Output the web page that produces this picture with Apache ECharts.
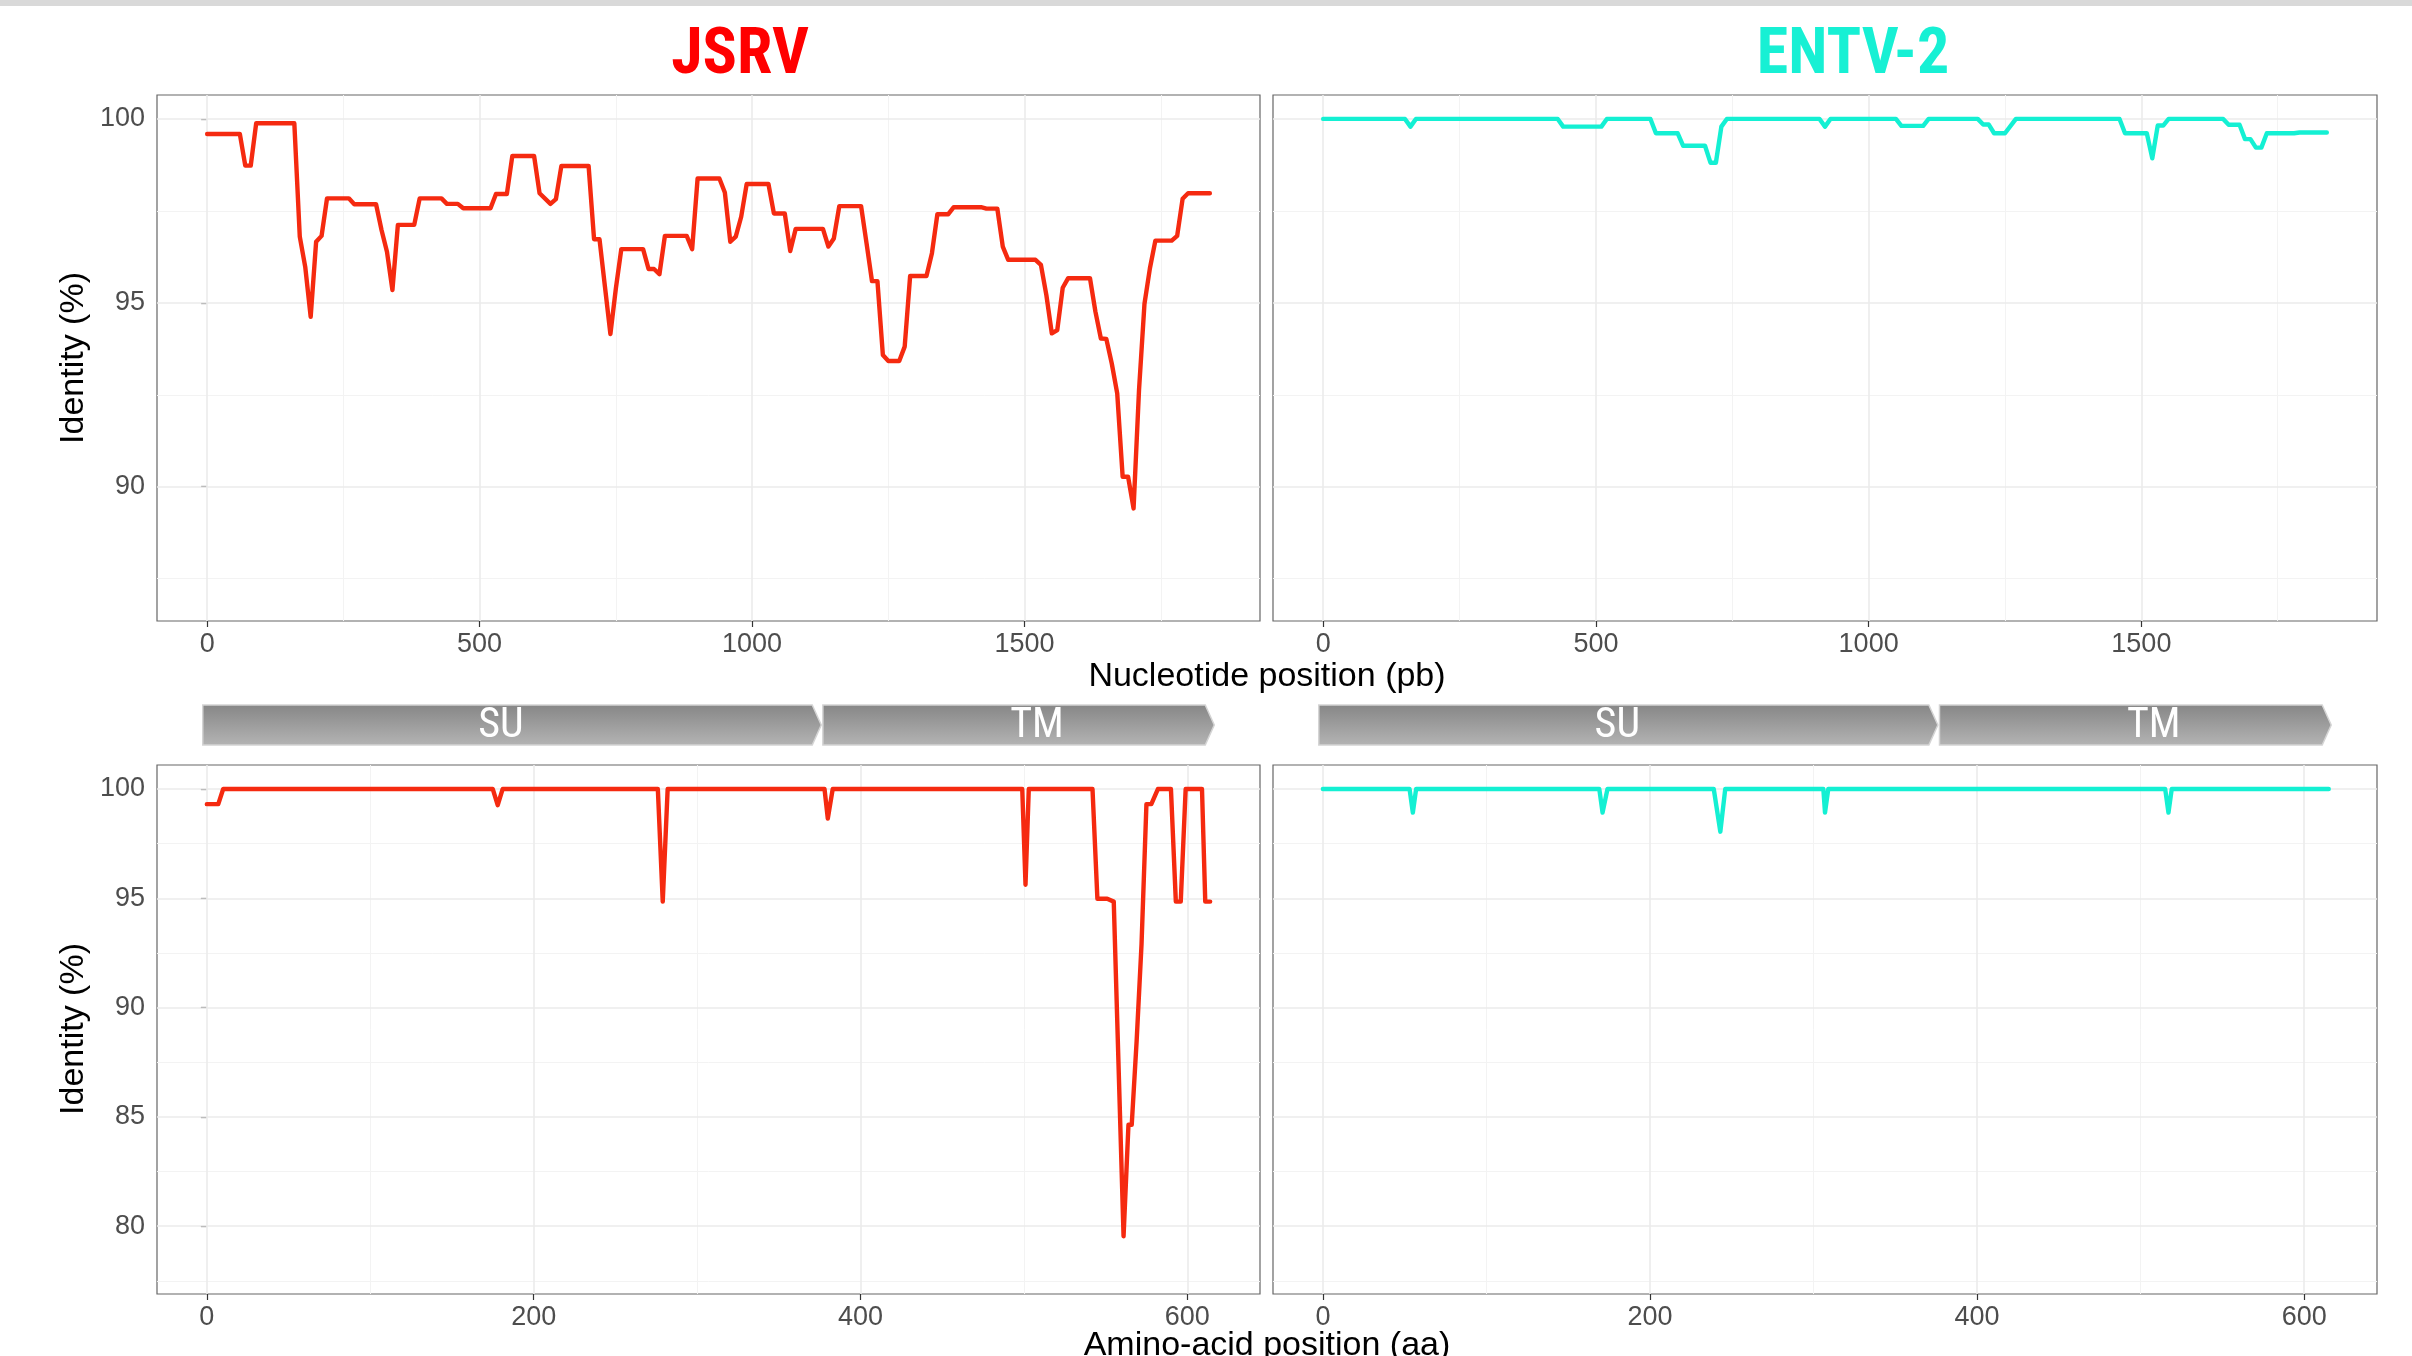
<!DOCTYPE html>
<html><head><meta charset="utf-8">
<script src="https://cdn.jsdelivr.net/npm/echarts@6/dist/echarts.min.js"></script>
<style>html,body{margin:0;padding:0;background:#fff}#c{width:2412px;height:1356px}</style>
</head><body><div id="c"></div>
<script>
// ---- data ----
const jsrvNtPos = [0,60,70,80,90,160,170,180,190,200,210,220,260,270,310,320,330,340,350,380,390,430,440,460,470,520,530,550,560,600,610,630,640,650,700,710,720,730,740,750,760,800,810,820,830,840,880,890,900,940,950,960,970,980,990,1030,1040,1060,1070,1080,1130,1140,1150,1160,1200,1210,1220,1230,1240,1250,1270,1280,1290,1320,1330,1340,1360,1370,1420,1430,1450,1460,1470,1520,1530,1540,1550,1560,1570,1580,1620,1630,1640,1650,1660,1670,1680,1690,1700,1710,1720,1730,1740,1770,1780,1790,1800,1840];
const jsrvNtId = [99.59,99.59,98.73,98.73,99.88,99.88,96.8,95.98,94.62,96.66,96.82,97.84,97.84,97.68,97.68,96.98,96.39,95.35,97.12,97.12,97.84,97.84,97.69,97.69,97.57,97.57,97.96,97.96,98.99,98.99,97.98,97.69,97.82,98.72,98.72,96.73,96.73,95.44,94.15,95.39,96.46,96.46,95.92,95.92,95.78,96.82,96.82,96.46,98.38,98.38,98.0,96.66,96.8,97.34,98.23,98.23,97.43,97.43,96.41,97.01,97.01,96.53,96.75,97.63,97.63,96.62,95.59,95.59,93.58,93.42,93.42,93.81,95.73,95.73,96.35,97.41,97.41,97.6,97.6,97.56,97.56,96.53,96.17,96.17,96.03,95.21,94.17,94.26,95.41,95.67,95.67,94.76,94.03,94.02,93.35,92.54,90.27,90.27,89.41,92.63,94.97,95.94,96.69,96.69,96.82,97.83,97.98,97.98];

const entvNtPos = [0,150,160,170,430,440,510,520,600,610,650,660,700,710,720,730,740,910,920,930,1050,1060,1100,1110,1200,1210,1220,1230,1250,1270,1460,1470,1510,1520,1530,1540,1550,1650,1660,1680,1690,1700,1710,1720,1730,1780,1790,1840];
const entvNtId = [100,100,99.79,100,100,99.79,99.79,100,100,99.61,99.61,99.27,99.27,98.81,98.81,99.79,100,100,99.79,100,100,99.81,99.81,100,100,99.85,99.85,99.61,99.61,100,100,99.61,99.61,98.93,99.82,99.82,100,100,99.84,99.84,99.45,99.45,99.22,99.22,99.61,99.61,99.63,99.63];

const jsrvAaPos = [0,7,10,175,178,181,276,279,282,378,380,383,499,501,503,542,545,551,555,561,564,566,569,572,575,578,582,590,593,596,599,609,611,614];
const jsrvAaId = [99.31,99.31,100,100,99.26,100,100,94.85,100,100,98.65,100,100,95.62,100,100,94.98,94.98,94.85,79.54,84.64,84.64,88.47,92.9,99.31,99.31,100,100,94.85,94.85,100,100,94.85,94.85];

const entvAaPos = [0,53,55,57,169,171,172,174,239,243,246,306,307,309,515,517,519,615];
const entvAaId = [100,100,98.92,100,100,98.92,98.92,100,100,98.05,100,100,98.92,100,100,98.92,100,100];

const geneNames = ['SU','TM'];
const geneStart = [-2.5, 377];
const geneEnd = [376, 616.5];
const geneLabelAt = [180, 508];

const virusNames = ['JSRV','ENTV-2'];
const ntTicks = [0,500,1000,1500];
const ntMinor = [250,750,1250,1750];
const aaTicks = [0,200,400,600];
const aaMinor = [100,300,500];
const ntIdTicks = [90,95,100];
const ntIdMinor = [87.5,92.5,97.5];
const aaIdTicks = [80,85,90,95,100];
const aaIdMinor = [77.5,82.5,87.5,92.5,97.5];

// ---- styling ----
const RED = '#F52A10', CYAN = '#14F0D3';
const FONT = '"Liberation Sans", Arial, sans-serif';
const NARROW = '"Liberation Sans Narrow", "Arial Narrow", "Roboto Condensed", "DejaVu Sans Condensed", sans-serif';
const zip = (a, b) => a.map((v, i) => [v, b[i]]);

const L = {left: 157, width: 1103}, R = {left: 1273, width: 1104};
const grids = [
  {left: L.left, width: L.width, top: 95, height: 526},
  {left: R.left, width: R.width, top: 95, height: 526},
  {left: L.left, width: L.width, top: 765, height: 529},
  {left: R.left, width: R.width, top: 765, height: 529},
  {left: L.left, width: L.width, top: 705, height: 40},
  {left: R.left, width: R.width, top: 705, height: 40}
].map((g, i) => Object.assign({show: i < 4, borderColor: '#666666', borderWidth: 1.2, backgroundColor: 'transparent', containLabel: false}, g));

const ntRange = {min: -92, max: 1932};
const aaRange = {min: -30.5, max: 644.5};
const ntIdRange = {min: 86.35, max: 100.65};
const aaIdRange = {min: 76.9, max: 101.1};

function xAx(gi, range, ticks) {
  return Object.assign({type: 'value', gridIndex: gi,
    axisLine: {show: false}, splitLine: {show: false},
    axisTick: {show: true, customValues: ticks, length: 6, lineStyle: {color: '#333', width: 1.2}},
    axisLabel: {show: true, customValues: ticks, formatter: v => String(v), color: '#4D4D4D', fontSize: 27, fontFamily: FONT, margin: 10}
  }, range);
}
function yAx(gi, range, ticks, showLab) {
  return Object.assign({type: 'value', gridIndex: gi,
    axisLine: {show: false}, splitLine: {show: false},
    axisTick: {show: showLab, customValues: ticks, length: 6, lineStyle: {color: '#333', width: 1.2}},
    axisLabel: {show: showLab, customValues: ticks, formatter: v => String(v), color: '#4D4D4D', fontSize: 27, fontFamily: FONT, margin: 12}
  }, range);
}
const xAxis = [
  xAx(0, ntRange, ntTicks), xAx(1, ntRange, ntTicks),
  xAx(2, aaRange, aaTicks), xAx(3, aaRange, aaTicks),
  Object.assign({type: 'value', gridIndex: 4, show: false}, aaRange),
  Object.assign({type: 'value', gridIndex: 5, show: false}, aaRange)
];
const yAxis = [
  yAx(0, ntIdRange, ntIdTicks, true), yAx(1, ntIdRange, ntIdTicks, false),
  yAx(2, aaIdRange, aaIdTicks, true), yAx(3, aaIdRange, aaIdTicks, false),
  {type: 'value', gridIndex: 4, show: false, min: 0, max: 1},
  {type: 'value', gridIndex: 5, show: false, min: 0, max: 1}
];

const MAJ = {color: '#EBEBEB', width: 1.6, type: 'solid'};
const MIN = {color: '#F3F3F3', width: 1, type: 'solid'};
function gridMarks(xMaj, xMin, yMaj, yMin) {
  const d = [];
  xMin.forEach(v => d.push({xAxis: v, lineStyle: MIN}));
  yMin.forEach(v => d.push({yAxis: v, lineStyle: MIN}));
  xMaj.forEach(v => d.push({xAxis: v, lineStyle: MAJ}));
  yMaj.forEach(v => d.push({yAxis: v, lineStyle: MAJ}));
  return {silent: true, symbol: ['none', 'none'], label: {show: false}, z: 1, animation: false, emphasis: {disabled: true}, data: d};
}
function lineSeries(gi, pos, id, color, marks) {
  return {type: 'line', xAxisIndex: gi, yAxisIndex: gi, data: zip(pos, id),
    showSymbol: false, symbol: 'none', z: 3, animation: false, silent: true,
    lineStyle: {color: color, width: 4.4, cap: 'round', join: 'round'},
    markLine: marks};
}
function geneSeries(gi) {
  return {type: 'custom', xAxisIndex: gi, yAxisIndex: gi, clip: false, silent: true, animation: false,
    data: geneStart.map((s, i) => [s, geneEnd[i], geneLabelAt[i]]),
    renderItem: function (params, api) {
      const a = api.coord([api.value(0), 1]);
      const b = api.coord([api.value(1), 0]);
      const c = api.coord([api.value(2), 0.5]);
      const top = a[1], bot = b[1], mid = (top + bot) / 2, head = 9;
      return {type: 'group', children: [
        {type: 'polygon', shape: {points: [[a[0], top], [b[0] - head, top], [b[0], mid], [b[0] - head, bot], [a[0], bot]]},
          style: {fill: new echarts.graphic.LinearGradient(0, 0, 0, 1, [{offset: 0, color: '#868686'}, {offset: 1, color: '#b4b4b4'}]),
            stroke: '#d4d4d4', lineWidth: 1.5}},
        {type: 'text', style: {text: geneNames[params.dataIndex], x: c[0], y: mid + 1, align: 'center', verticalAlign: 'middle',
          fill: '#ffffff', font: '42px ' + NARROW}}
      ]};
    }};
}

const series = [
  lineSeries(0, jsrvNtPos, jsrvNtId, RED, gridMarks(ntTicks, ntMinor, ntIdTicks, ntIdMinor)),
  lineSeries(1, entvNtPos, entvNtId, CYAN, gridMarks(ntTicks, ntMinor, ntIdTicks, ntIdMinor)),
  lineSeries(2, jsrvAaPos, jsrvAaId, RED, gridMarks(aaTicks, aaMinor, aaIdTicks, aaIdMinor)),
  lineSeries(3, entvAaPos, entvAaId, CYAN, gridMarks(aaTicks, aaMinor, aaIdTicks, aaIdMinor)),
  geneSeries(4), geneSeries(5)
];

const graphic = [
  {type: 'rect', shape: {x: 0, y: 0, width: 2412, height: 6}, style: {fill: '#D9D9D9'}, silent: true},
  {type: 'text', x: 740, y: 57, style: {text: virusNames[0], font: 'bold 64px ' + NARROW, fill: '#FF0000', align: 'center', verticalAlign: 'middle'}},
  {type: 'text', x: 1853, y: 57, style: {text: virusNames[1], font: 'bold 64px ' + NARROW, fill: '#17F0D4', align: 'center', verticalAlign: 'middle'}},
  {type: 'text', x: 74, y: 358, rotation: Math.PI / 2, style: {text: 'Identity (%)', font: '34px ' + FONT, fill: '#000', align: 'center', verticalAlign: 'middle'}},
  {type: 'text', x: 74, y: 1029, rotation: Math.PI / 2, style: {text: 'Identity (%)', font: '34px ' + FONT, fill: '#000', align: 'center', verticalAlign: 'middle'}},
  {type: 'text', x: 1267, y: 677, style: {text: 'Nucleotide position (pb)', font: '34px ' + FONT, fill: '#000', align: 'center', verticalAlign: 'middle'}},
  {type: 'text', x: 1267, y: 1346, style: {text: 'Amino-acid position (aa)', font: '34px ' + FONT, fill: '#000', align: 'center', verticalAlign: 'middle'}}
];

const chart = echarts.init(document.getElementById('c'), null, {renderer: 'canvas'});
chart.setOption({backgroundColor: '#ffffff', animation: false, grid: grids, xAxis: xAxis, yAxis: yAxis, series: series, graphic: graphic});
</script></body></html>
